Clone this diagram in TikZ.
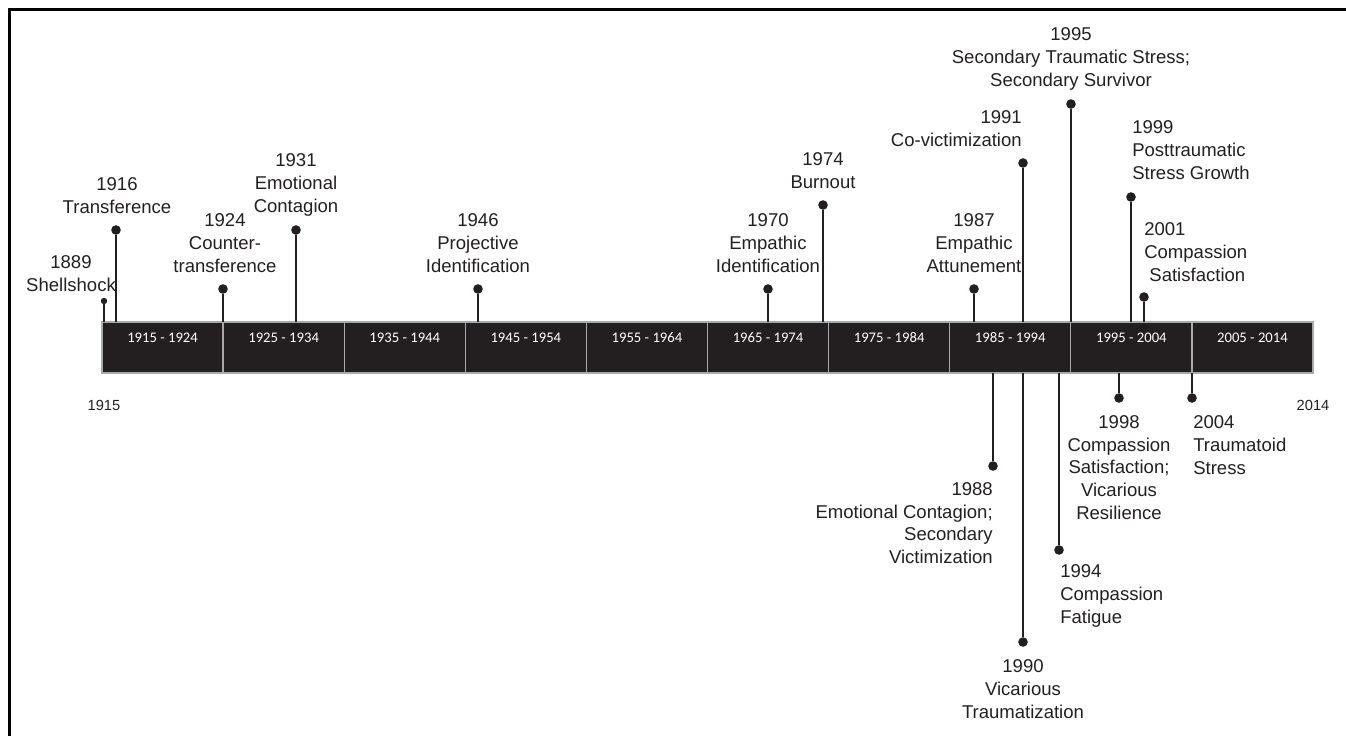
\documentclass[tikz,border=0pt]{standalone}
\usepackage{fontspec}
\setmainfont{Liberation Sans}
\newfontfamily\barfont{Carlito}
\definecolor{ink}{HTML}{231F20}
\definecolor{bargray}{HTML}{A7A9AC}
\begin{document}
\begin{tikzpicture}[x=0.75pt,y=-0.75pt,
 seg/.style={draw=bargray, line width=1pt, fill=ink, minimum width=90.825pt, minimum height=38.25pt, inner sep=0, outer sep=0, anchor=north west},
 segtext/.style={text=white, font=\barfont\fontsize{11}{12}\selectfont, inner sep=0},
 dot/.style={circle, fill=ink, inner sep=0, minimum size=7.2pt},
 smalldot/.style={circle, fill=ink, inner sep=0, minimum size=4.8pt},
 stem/.style={draw=ink, line width=1pt},
 ev/.style={text=ink, inner sep=0, font=\fontsize{13.9}{17}\selectfont, align=center},
 evl/.style={ev, align=left, anchor=west},
 evr/.style={ev, align=right, anchor=east},
 axislab/.style={text=ink, inner sep=0, font=\fontsize{11}{13}\selectfont}]

\useasboundingbox (0,0) rectangle (1346,736);
\draw[line width=2.25pt] (9.5,736) -- (9.5,9.5) -- (1346,9.5);

% bar segments
\foreach \i/\lab in {0/1915 - 1924,1/1925 - 1934,2/1935 - 1944,3/1945 - 1954,4/1955 - 1964,5/1965 - 1974,6/1975 - 1984,7/1985 - 1994,8/1995 - 2004,9/2005 - 2014}{
  \node[seg] (seg\i) at ({102+121.1*\i},322) {};
  \node[segtext] (segt\i) at ([yshift=-12pt]seg\i.north) {\lab};
}

% axis labels
\node[axislab] (ax1915) at (104,405) {1915};
\node[axislab] (ax2014) at (1313,405) {2014};

% dots above
\node[smalldot] (d1889) at (104,301) {};
\node[dot] (d1916) at (116,230) {};
\node[dot] (d1924) at (223,289) {};
\node[dot] (d1931) at (296,230) {};
\node[dot] (d1946) at (478,289) {};
\node[dot] (d1970) at (768,289) {};
\node[dot] (d1974) at (823,205) {};
\node[dot] (d1987) at (974,289) {};
\node[dot] (d1991) at (1023,163) {};
\node[dot] (d1995) at (1071,104) {};
\node[dot] (d1999) at (1131,197) {};
\node[dot] (d2001) at (1144,297) {};
% dots below
\node[dot] (d1988) at (993,466) {};
\node[dot] (d1990) at (1023,642) {};
\node[dot] (d1994) at (1059,550) {};
\node[dot] (d1998) at (1119,398) {};
\node[dot] (d2004) at (1192,398) {};

% stems
\draw[stem] (d1889) -- (d1889 |- seg0.north);
\draw[stem] (d1916) -- (d1916 |- seg0.north);
\draw[stem] (d1924) -- (d1924 |- seg1.north);
\draw[stem] (d1931) -- (d1931 |- seg1.north);
\draw[stem] (d1946) -- (d1946 |- seg3.north);
\draw[stem] (d1970) -- (d1970 |- seg5.north);
\draw[stem] (d1974) -- (d1974 |- seg5.north);
\draw[stem] (d1987) -- (d1987 |- seg7.north);
\draw[stem] (d1991) -- (d1991 |- seg7.north);
\draw[stem] (d1995) -- (d1995 |- seg8.north);
\draw[stem] (d1999) -- (d1999 |- seg8.north);
\draw[stem] (d2001) -- (d2001 |- seg8.north);
\draw[stem] (d1988) -- (d1988 |- seg7.south);
\draw[stem] (d1990) -- (d1990 |- seg7.south);
\draw[stem] (d1994) -- (d1994 |- seg7.south);
\draw[stem] (d1998) -- (d1998 |- seg8.south);
\draw[stem] (d2004) -- (d2004 |- seg9.south);

% labels above
\node[ev] (l1889) at (71,273.5) {1889\\Shellshock};
\node[ev] (l1916) at (117,195.5) {1916\\Transference};
\node[ev] (l1924) at (225,243) {1924\\Counter-\\transference};
\node[ev] (l1931) at (296,185) {1931\\Emotional\\Contagion};
\node[ev] (l1946) at (478,243) {1946\\Projective\\Identification};
\node[ev] (l1970) at (768,243) {1970\\Empathic\\Identification};
\node[ev] (l1974) at (823,170.5) {1974\\Burnout};
\node[ev] (l1987) at (974,243) {1987\\Empathic\\Attunement};
\node[evr] (l1991) at (1022,128.5) {1991\\Co-victimization};
\node[ev] (l1995) at (1071,59) {1995\\Secondary Traumatic Stress;\\Secondary Survivor};
\node[evl] (l1999) at (1132,150) {1999\\Posttraumatic\\Stress Growth};
\node[evl] (l2001) at (1144,252) {2001\\Compassion\\\ Satisfaction};
% labels below
\node[evr] (l1988) at (993,523) {1988\\Emotional Contagion;\\Secondary\\Victimization};
\node[ev] (l1990) at (1023,689) {1990\\Vicarious\\Traumatization};
\node[evl] (l1994) at (1060,596) {1994\\Compassion\\Fatigue};
\node[ev] (l1998) at (1119,467.5) {1998\\Compassion\\Satisfaction;\\Vicarious\\Resilience};
\node[evl] (l2004) at (1193,445) {2004\\Traumatoid\\Stress};
\end{tikzpicture}
\end{document}
